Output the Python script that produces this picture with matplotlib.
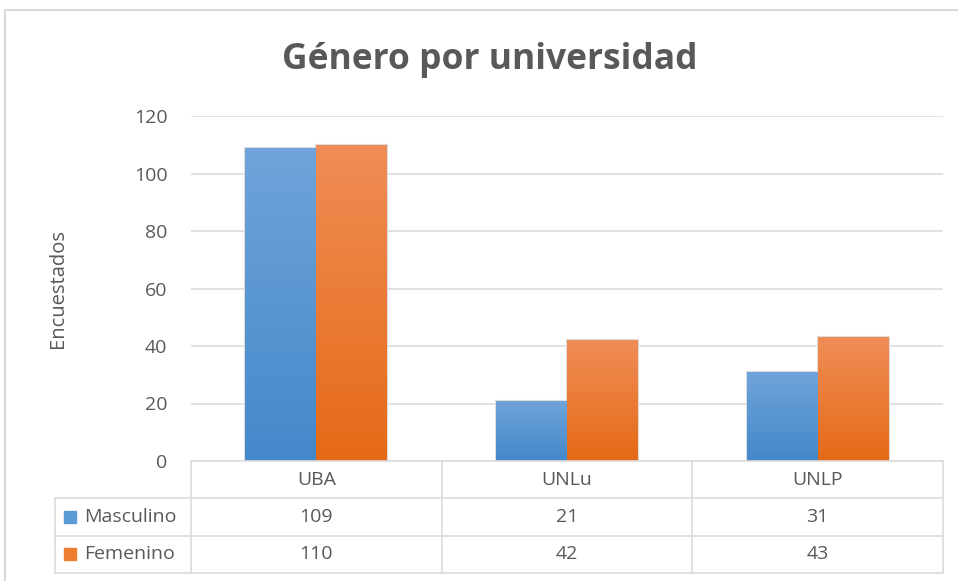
import numpy as np
import matplotlib.pyplot as plt
from matplotlib.colors import to_rgb
from matplotlib.patches import Rectangle

universidades = ["UBA", "UNLu", "UNLP"]
series = ["Masculino", "Femenino"]
masculino = [109, 21, 31]
femenino = [110, 42, 43]
yticks = [0, 20, 40, 60, 80, 100, 120]

W, H = 958, 581
fnt = ['Open Sans', 'DejaVu Sans']
fs = 14
gray = '#595959'
grid = '#D9D9D9'
col_top = {"Masculino": '#70A4DA', "Femenino": '#F08D56'}
col_bot = {"Masculino": '#4488CA', "Femenino": '#E56A17'}
col_key = {"Masculino": '#5B9BD5', "Femenino": '#ED7D31'}

def px(x0, y0, x1, y1):
    # pixel box (top-left origin) -> figure fraction
    return [x0 / W, (H - y1) / H, (x1 - x0) / W, (y1 - y0) / H]

fig = plt.figure(figsize=(W / 100, H / 100), dpi=100)
fig.patches.append(Rectangle((5 / W, -0.1), 1.1, (H - 10) / H + 0.1, transform=fig.transFigure,
                             fill=False, edgecolor='#D9D9D9', lw=1.5))

ax = fig.add_axes(px(191, 116, 943, 461))
ax.set_xlim(-0.5, len(universidades) - 0.5)
ax.set_ylim(0, 120)
for s in ax.spines.values():
    s.set_visible(False)
ax.set_yticks(yticks)
ax.set_xticks([])
ax.yaxis.grid(True, color=grid, lw=1.1)
ax.set_axisbelow(True)
ax.tick_params(axis='y', length=0, pad=17, labelsize=fs, labelcolor=gray)
for t in ax.get_yticklabels():
    t.set_family(fnt)
ax.set_ylabel("Encuestados", fontsize=14.5, color=gray, family=fnt, labelpad=47)

x = np.arange(len(universidades))
bw = 0.283
for k, (name, vals) in enumerate(zip(series, [masculino, femenino])):
    bars = ax.bar(x + (k - 0.5) * bw, vals, bw, color=col_key[name], edgecolor='#DDDDDD', lw=1.5, zorder=2)
    c0, c1 = np.array(to_rgb(col_top[name])), np.array(to_rgb(col_bot[name]))
    grad = np.linspace(0, 1, 100)[:, None, None] * (c1 - c0) + c0
    for b in bars:
        im = ax.imshow(grad, extent=[b.get_x(), b.get_x() + b.get_width(), 0, b.get_height()],
                       aspect='auto', zorder=3, interpolation='bilinear')
        im.set_clip_path(b)
ax.set_xlim(-0.5, len(universidades) - 0.5)
ax.set_ylim(0, 120)

# data table
tab = fig.add_axes(px(55, 461, 943, 573))
left = -0.5 - (191 - 55) / (943 - 191) * len(universidades)
tab.set_xlim(left, len(universidades) - 0.5)
tab.set_ylim(3, 0)
tab.axis('off')
lc = '#DCDCDC'
lw = 1.2
edges = np.arange(len(universidades) + 1) - 0.5
tab.plot([edges[0], edges[-1]], [0, 0], color=lc, lw=lw, clip_on=False)
for r in [1, 2, 3]:
    tab.plot([left, edges[-1]], [r, r], color=lc, lw=lw, clip_on=False)
for e in edges:
    tab.plot([e, e], [0, 3], color=lc, lw=lw, clip_on=False)
tab.plot([left, left], [1, 3], color=lc, lw=lw, clip_on=False)
for i, u in enumerate(universidades):
    tab.text(i, 0.5, u, ha='center', va='center', fontsize=fs, color=gray, family=fnt)
for r, (name, vals) in enumerate(zip(series, [masculino, femenino])):
    tab.add_patch(Rectangle((left + 0.037, r + 1.34), 0.046, 0.32, color=col_key[name], clip_on=False))
    tab.text(left + 0.118, r + 1.5, name, ha='left', va='center', fontsize=fs, color=gray, family=fnt)
    for i, v in enumerate(vals):
        tab.text(i, r + 1.5, str(v), ha='center', va='center', fontsize=fs, color=gray, family=fnt)

fig.text(490 / W, 1 - 60 / H, "Género por universidad", ha='center', va='center',
         fontsize=25.5, fontweight='bold', color=gray, family=fnt)

fig.savefig("out.png", dpi=100)
